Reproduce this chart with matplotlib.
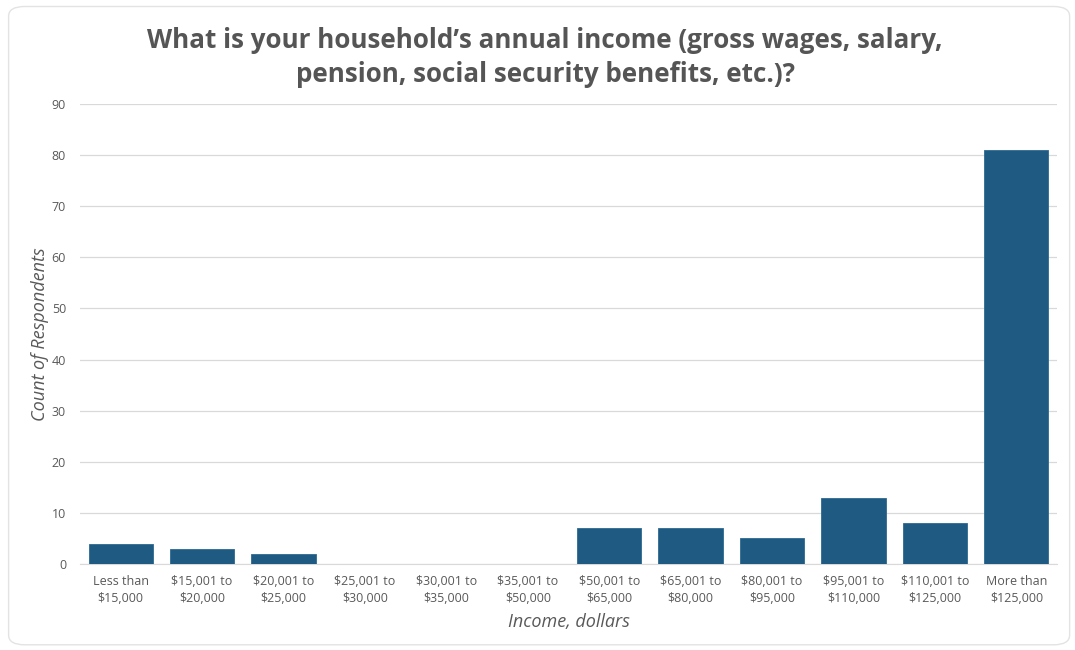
import matplotlib.pyplot as plt
from matplotlib.patches import FancyBboxPatch

# Survey responses: household annual income
categories = [
    "Less than\n$15,000", "$15,001 to\n$20,000", "$20,001 to\n$25,000",
    "$25,001 to\n$30,000", "$30,001 to\n$35,000", "$35,001 to\n$50,000",
    "$50,001 to\n$65,000", "$65,001 to\n$80,000", "$80,001 to\n$95,000",
    "$95,001 to\n$110,000", "$110,001 to\n$125,000", "More than\n$125,000",
]
counts = [4, 3, 2, 0, 0, 0, 7, 7, 5, 13, 8, 81]
y_ticks = list(range(0, 91, 10))

BAR = "#1f5a82"
TEXT = "#595959"
GRID = "#d9d9d9"

plt.rcParams["font.family"] = ["Open Sans", "DejaVu Sans"]

fig = plt.figure(figsize=(10.75, 6.5), dpi=100)

# rounded card outline behind the chart
card = FancyBboxPatch((0.008, 0.008), 0.987, 0.982,
                      boxstyle="round,pad=0,rounding_size=0.015",
                      transform=fig.transFigure, facecolor="white",
                      edgecolor="#e3e3e3", linewidth=1.0, zorder=-1)
fig.patches.append(card)

ax = fig.add_axes([0.0744, 0.1323, 0.9089, 0.7077])
ax.set_facecolor("none")

x = range(len(categories))
ax.bar(x, counts, width=0.79, color=BAR, edgecolor="#2c6892", linewidth=0.6, zorder=3)

ax.set_xlim(-0.5, len(categories) - 0.5)
ax.set_ylim(0, 90)
ax.set_yticks(y_ticks)
ax.set_xticks(list(x))
ax.set_xticklabels(categories, fontsize=9, color=TEXT, linespacing=1.35)
ax.tick_params(axis="y", labelsize=9, colors=TEXT, length=0, pad=10)
ax.tick_params(axis="x", length=0, pad=8)

ax.grid(axis="y", color=GRID, linewidth=0.9, zorder=0)
for side in ["top", "right", "left"]:
    ax.spines[side].set_visible(False)
ax.spines["bottom"].set_color(GRID)

ax.set_ylabel("Count of Respondents", fontsize=13, color=TEXT, style="italic")
ax.set_xlabel("Income, dollars", fontsize=13, color=TEXT, style="italic", labelpad=6)
ax.yaxis.set_label_coords(-0.032, 0.5)

fig.text(0.507, 0.958,
         "What is your household\u2019s annual income (gross wages, salary,\n"
         "pension, social security benefits, etc.)?",
         ha="center", va="top", fontsize=18.7, fontweight="bold", color="#555555",
         linespacing=1.3)

fig.savefig("out.png", dpi=100)
